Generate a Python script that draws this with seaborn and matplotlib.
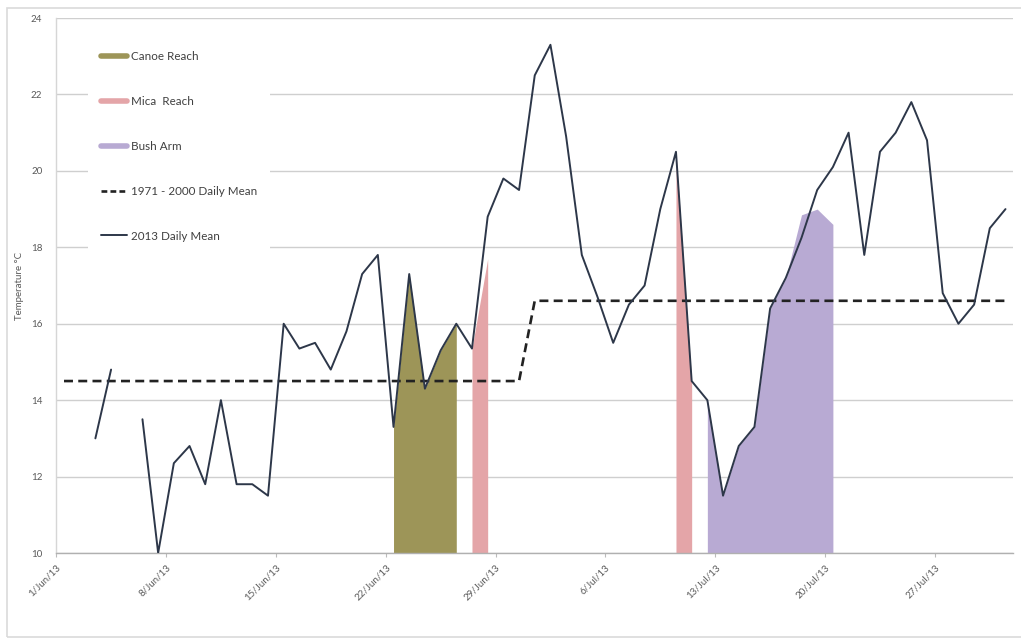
import numpy as np
import pandas as pd
import matplotlib
matplotlib.use("Agg")
import matplotlib.pyplot as plt
import matplotlib.dates as mdates
from matplotlib.lines import Line2D
from matplotlib.patches import Rectangle
import seaborn as sns

# ---- data -------------------------------------------------------------
days = pd.date_range("2013-06-01", "2013-07-31", freq="D")

# 2013 daily mean water temperature (°C); NaN = no record
temp_2013 = [
    np.nan, np.nan, 13.0, 14.8, np.nan, 13.5, 10.0, 12.35, 12.8, 11.8,
    14.0, 11.8, 11.8, 11.5, 16.0, 15.35, 15.5, 14.8, 15.8, 17.3,
    17.8, 13.3, 17.3, 14.3, 15.3, 16.0, 15.35, 18.8, 19.8, 19.5,
    22.5, 23.3, 20.9, 17.8, 16.7, 15.5, 16.5, 17.0, 19.0, 20.5,
    14.5, 14.0, 11.5, 12.8, 13.3, 16.4, 17.2, 18.25, 19.5, 20.1,
    21.0, 17.8, 20.5, 21.0, 21.8, 20.8, 16.8, 16.0, 16.5, 18.5,
    19.0,
]

# 1971 - 2000 daily mean (°C)
clim_june = 14.5
clim_july = 16.6
clim_mean = [clim_june] * 30 + [clim_july] * 31

# sampling windows for each reach
canoe_days = pd.date_range("2013-06-22", "2013-06-26", freq="D")
canoe_temp = [13.3, 17.3, 14.3, 15.3, 16.0]

mica1_days = pd.date_range("2013-06-27", "2013-06-28", freq="D")
mica1_temp = [15.35, 17.7]
mica2_days = pd.date_range("2013-07-10", "2013-07-11", freq="D")
mica2_temp = [20.5, 14.5]

bush_days = pd.date_range("2013-07-12", "2013-07-20", freq="D")
bush_temp = [14.0, 11.5, 12.8, 13.3, 16.4, 17.2, 18.85, 19.0, 18.6]

tick_dates = pd.date_range("2013-06-01", "2013-07-27", freq="7D")
y_ticks = [10, 12, 14, 16, 18, 20, 22, 24]

legend_labels = ["Canoe Reach", "Mica  Reach", "Bush Arm",
                 "1971 - 2000 Daily Mean", "2013 Daily Mean"]

# ---- styling ----------------------------------------------------------
C_CANOE = "#9D9558"
C_MICA = "#E4A5A8"
C_BUSH = "#B8AAD3"
C_LINE = "#2D3749"
C_MEAN = "#222222"
C_GRID = "#CFCFCF"
C_TEXT = "#595959"

sns.set_theme(style="white")
plt.rcParams["font.family"] = ["Lato", "DejaVu Sans"]

fig = plt.figure(figsize=(10.21, 6.44), dpi=100)
ax = fig.add_axes([0.0550, 0.1413, 0.9375, 0.8307])

half_day = pd.Timedelta(hours=12)

df = pd.DataFrame({"date": days + half_day, "temp": temp_2013})
# consecutive runs of valid values become separate line units
valid = df["temp"].notna()
df["run"] = (valid != valid.shift()).cumsum()
df = df[valid]

# shaded reach windows
for d, t, c in [(canoe_days, canoe_temp, C_CANOE),
                (mica1_days, mica1_temp, C_MICA),
                (mica2_days, mica2_temp, C_MICA),
                (bush_days, bush_temp, C_BUSH)]:
    ax.fill_between(d + half_day, 10, t, color=c, linewidth=0, zorder=2)

# climatological mean
sns.lineplot(x=days + half_day, y=clim_mean, ax=ax, color=C_MEAN,
             linewidth=1.9, zorder=3)
ax.lines[-1].set_linestyle((0, (3.4, 2.0)))

# 2013 daily mean
sns.lineplot(data=df, x="date", y="temp", units="run", estimator=None,
             ax=ax, color=C_LINE, linewidth=1.4, zorder=4)

# axes
ax.set_xlim(pd.Timestamp("2013-06-01"), pd.Timestamp("2013-08-01"))
ax.set_ylim(10, 24)
ax.set_yticks(y_ticks)
ax.yaxis.grid(True, color=C_GRID, linewidth=1.0, zorder=0)
ax.xaxis.grid(False)
ax.set_axisbelow(True)
ax.set_xticks(tick_dates)
ax.xaxis.set_major_formatter(mdates.DateFormatter("%-d/%b/%y"))
for lbl in ax.get_xticklabels():
    lbl.set_rotation(45)
    lbl.set_ha("right")
    lbl.set_rotation_mode("anchor")
ax.tick_params(axis="x", colors=C_TEXT, labelsize=7, length=3, width=0.8,
               direction="out", pad=4, bottom=True, color="#BBBBBB")
ax.tick_params(axis="y", colors=C_TEXT, labelsize=7, length=0, pad=10)
for s in ("top", "right"):
    ax.spines[s].set_visible(False)
ax.spines["left"].set_color("#D6D6D6")
ax.spines["left"].set_linewidth(1.0)
ax.spines["bottom"].set_color("#B0B0B0")
ax.spines["bottom"].set_linewidth(1.0)
ax.set_xlabel("")
ax.set_ylabel("Temperature °C", fontsize=7, color=C_TEXT, labelpad=5)

# legend
handles = [
    Line2D([0], [0], color=C_CANOE, linewidth=4),
    Line2D([0], [0], color=C_MICA, linewidth=4),
    Line2D([0], [0], color=C_BUSH, linewidth=4),
    Line2D([0], [0], color=C_MEAN, linewidth=1.9, linestyle=(0, (2.2, 1.2))),
    Line2D([0], [0], color=C_LINE, linewidth=1.4),
]
leg = ax.legend(handles, legend_labels, loc="upper left",
                bbox_to_anchor=(0.033, 0.962), frameon=True, fontsize=8.4,
                labelspacing=2.9, handlelength=2.3, handletextpad=0.3,
                borderpad=1.1, borderaxespad=0)
leg.get_frame().set_facecolor("white")
leg.get_frame().set_edgecolor("none")
leg.get_frame().set_alpha(1.0)
for t in leg.get_texts():
    t.set_color("#404040")

# chart-area border
fig.patches.append(Rectangle((7 / 1021, 7 / 644), 1.2, 629 / 644,
                             transform=fig.transFigure, fill=False,
                             edgecolor="#DADADA", linewidth=1.2))

fig.savefig("out.png", dpi=100, facecolor="white")
